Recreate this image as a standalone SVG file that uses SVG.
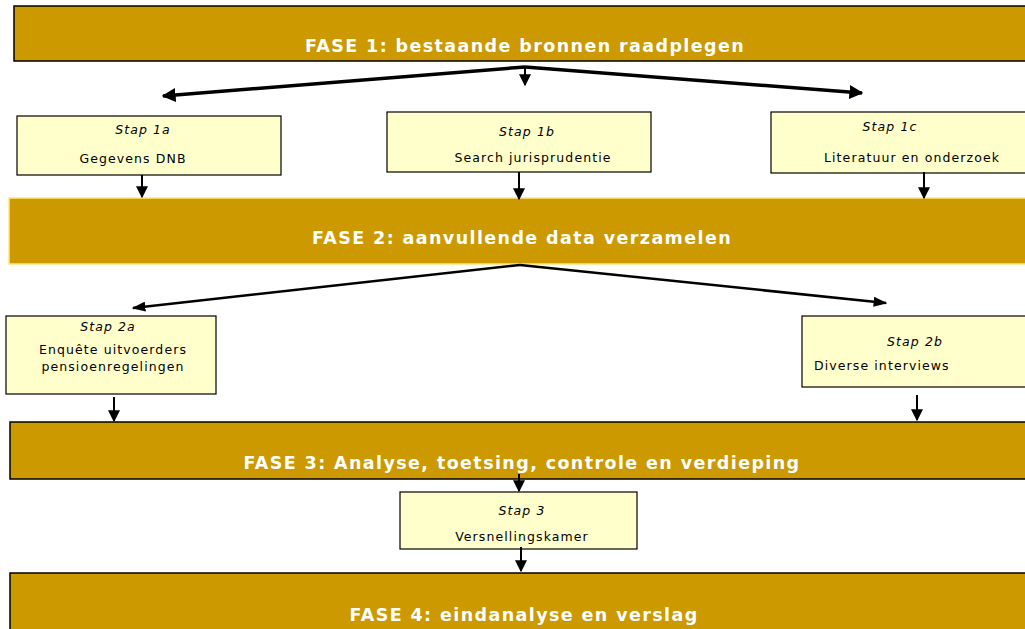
<svg xmlns="http://www.w3.org/2000/svg" width="1025" height="629" viewBox="0 0 1025 629">
<style>
.phase{fill:#CC9900;stroke:#000;stroke-width:1.5}
.phase2{fill:#CC9900;stroke:#FFE680;stroke-width:1.5}
.step{fill:#FFFFCC;stroke:#000;stroke-width:1.2}
.pt{font-family:"DejaVu Sans",Verdana,sans-serif;font-weight:bold;font-size:17.5px;fill:#fff;text-anchor:middle;letter-spacing:1.4px}
.st{font-family:"DejaVu Sans",Verdana,sans-serif;font-size:12.5px;fill:#000;text-anchor:middle;letter-spacing:1.1px}
.it{font-style:italic}
.c{stroke:#000;fill:none}
</style>
<defs>
<marker id="ah" viewBox="0 0 10 10" refX="9" refY="5" markerWidth="4" markerHeight="4" markerUnits="strokeWidth" orient="auto"><path d="M0,0 L10,5 L0,10 z" fill="#000"/></marker>
<marker id="ah3" viewBox="0 0 10 10" refX="9" refY="5" markerWidth="5.5" markerHeight="4" markerUnits="strokeWidth" orient="auto" preserveAspectRatio="none"><path d="M0,0 L10,5 L0,10 z" fill="#000"/></marker>
<marker id="ah2" viewBox="0 0 10 10" refX="9" refY="5" markerWidth="6" markerHeight="6" markerUnits="strokeWidth" orient="auto"><path d="M0,0 L10,5 L0,10 z" fill="#000"/></marker>
</defs>
<rect width="1025" height="629" fill="#fff"/>
<g id="fase1"><rect class="phase" x="14" y="6" width="1020" height="55"/><text class="pt" x="525" y="52">FASE 1: bestaande bronnen raadplegen</text></g>
<g id="stap1a"><rect class="step" x="17" y="116" width="264" height="59"/><text class="st it" x="143" y="134">Stap 1a</text><text class="st" x="133" y="163">Gegevens DNB</text></g>
<g id="stap1b"><rect class="step" x="387" y="112" width="264" height="60"/><text class="st it" x="527" y="136">Stap 1b</text><text class="st" x="533" y="162">Search jurisprudentie</text></g>
<g id="stap1c"><rect class="step" x="771" y="112" width="264" height="61"/><text class="st it" x="890" y="131">Stap 1c</text><text class="st" x="912" y="162">Literatuur en onderzoek</text></g>
<g id="fase2"><rect class="phase2" x="9" y="198" width="1025" height="66"/><text class="pt" x="522" y="244">FASE 2: aanvullende data verzamelen</text></g>
<g id="stap2a"><rect class="step" x="6" y="316" width="210" height="78"/><text class="st it" x="108" y="331">Stap 2a</text><text class="st" x="113" y="354">Enquête uitvoerders</text><text class="st" x="113" y="371">pensioenregelingen</text></g>
<g id="stap2b"><rect class="step" x="802" y="316" width="232" height="71"/><text class="st it" x="915" y="346">Stap 2b</text><text class="st" x="814" y="370" style="text-anchor:start">Diverse interviews</text></g>
<g id="fase3"><rect class="phase" x="10" y="422" width="1024" height="57"/><text class="pt" x="522" y="469">FASE 3: Analyse, toetsing, controle en verdieping</text></g>
<g id="stap3"><rect class="step" x="400" y="492" width="237" height="57"/><text class="st it" x="522" y="515">Stap 3</text><text class="st" x="522" y="541">Versnellingskamer</text></g>
<g id="fase4"><rect class="phase" x="10" y="573" width="1024" height="60"/><text class="pt" x="524" y="621">FASE 4: eindanalyse en verslag</text></g>
<g id="connectors">
<path class="c" d="M525,67 L163,96" stroke-width="3.5" marker-end="url(#ah)"/>
<path class="c" d="M525,67 L525,85" stroke-width="2" marker-end="url(#ah2)"/>
<path class="c" d="M525,67 L862,93" stroke-width="3.5" marker-end="url(#ah)"/>
<path class="c" d="M142,175 L142,197" stroke-width="2" marker-end="url(#ah2)"/>
<path class="c" d="M519,172 L519,199" stroke-width="2" marker-end="url(#ah2)"/>
<path class="c" d="M924,172 L924,198" stroke-width="2" marker-end="url(#ah2)"/>
<path class="c" d="M520,265 L133,308" stroke-width="2.5" marker-end="url(#ah3)"/>
<path class="c" d="M520,265 L886,303" stroke-width="2.5" marker-end="url(#ah3)"/>
<path class="c" d="M114,397 L114,421" stroke-width="2" marker-end="url(#ah2)"/>
<path class="c" d="M917,395 L917,420" stroke-width="2" marker-end="url(#ah2)"/>
<path class="c" d="M519,474 L519,491" stroke-width="2" marker-end="url(#ah2)"/>
<path class="c" d="M521,547 L521,571" stroke-width="2" marker-end="url(#ah2)"/>
</g>
</svg>
